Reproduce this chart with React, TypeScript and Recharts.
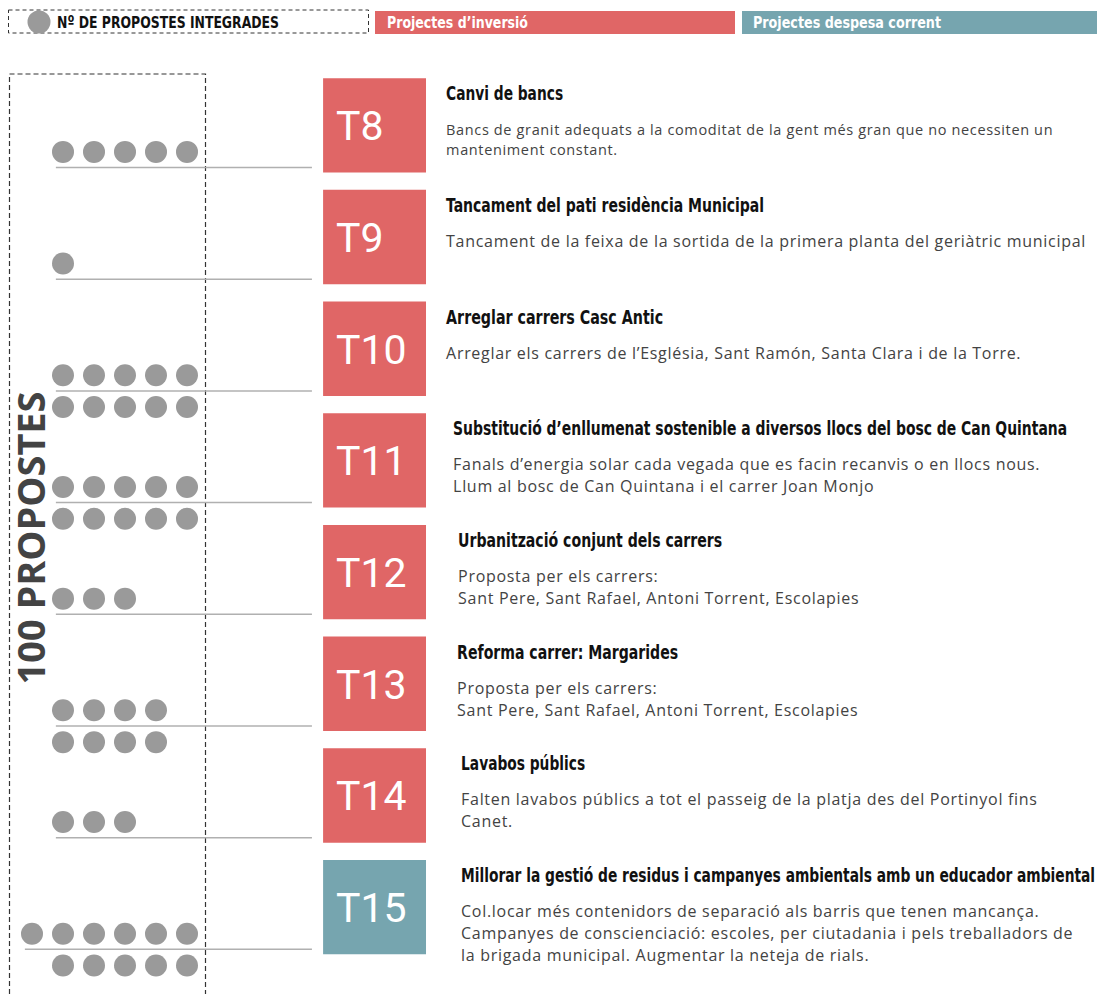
import { ScatterChart, Scatter, XAxis, YAxis, ReferenceLine, ReferenceArea } from "recharts";

// one entry per project row, top to bottom
const codes = ["T8", "T9", "T10", "T11", "T12", "T13", "T14", "T15"];
const titles = [
  "Canvi de bancs",
  "Tancament del pati residència Municipal",
  "Arreglar carrers Casc Antic",
  "Substitució d’enllumenat sostenible a diversos llocs del bosc de Can Quintana",
  "Urbanització conjunt dels carrers",
  "Reforma carrer: Margarides",
  "Lavabos públics",
  "Millorar la gestió de residus i campanyes ambientals amb un educador ambiental",
];
const descriptions = [
  ["Bancs de granit adequats a la comoditat de la gent més gran que no necessiten un", "manteniment constant."],
  ["Tancament de la feixa de la sortida de la primera planta del geriàtric municipal"],
  ["Arreglar els carrers de l’Església, Sant Ramón, Santa Clara i de la Torre."],
  ["Fanals d’energia solar cada vegada que es facin recanvis o en llocs nous.", "Llum al bosc de Can Quintana i el carrer Joan Monjo"],
  ["Proposta per els carrers:", "Sant Pere, Sant Rafael, Antoni Torrent, Escolapies"],
  ["Proposta per els carrers:", "Sant Pere, Sant Rafael, Antoni Torrent, Escolapies"],
  ["Falten lavabos públics a tot el passeig de la platja des del Portinyol fins", "Canet."],
  [
    "Col.locar més contenidors de separació als barris que tenen mancança.",
    "Campanyes de conscienciació: escoles, per ciutadania i pels treballadors de",
    "la brigada municipal. Augmentar la neteja de rials.",
  ],
];
const kinds = ["inversio", "inversio", "inversio", "inversio", "inversio", "inversio", "inversio", "despesa"];

// integrated proposals: dots above and below each row's line
const topDots = [5, 1, 5, 5, 3, 4, 3, 6];
const bottomDots = [0, 0, 5, 5, 0, 4, 0, 5];
const topFirstCol = [0, 0, 0, 0, 0, 0, 0, -1];

const legendLabels = ["Nº DE PROPOSTES INTEGRADES", "Projectes d’inversió", "Projectes despesa corrent"];
const totalLabel = "100 PROPOSTES";

// layout
const W = 1097;
const H = 994;
const X_DOMAIN: [number, number] = [-63 / 31, (W - 63) / 31];
const Y_DOMAIN: [number, number] = [-1.5, 7.4];
const BOX_COL = [8.39, 11.71];
const BOX_ROW = [-0.8, 0.045];
const DOT_ROW = [-0.14, 0.145];
const LINE_END = 8.03;
const textIndent = [0, 0, 0, 7, 12, 11, 15, 15];
const titleWidth = [117, 318, 217, 614, 264, 221, 124, 634];
const descSize = [14.5, 16, 16, 16, 16, 16, 16, 16];
const descSpacing = [0.64, 0.7, 0.7, 0.7, 0.7, 0.7, 0.7, 0.7];
const descLine = [20, 22, 22, 22, 22, 22, 22, 22];

const COLORS: Record<string, string> = { inversio: "#e06666", despesa: "#76a5af" };
const DOT = "#9a9a9a";
const TEXT = "#434343";
const CONDENSED = "'DejaVu Sans Condensed', 'Liberation Sans Narrow', sans-serif";

const dots = codes.flatMap((_, i) => [
  ...Array.from({ length: topDots[i] }, (_, k) => ({ col: topFirstCol[i] + k, y: i + DOT_ROW[0] })),
  ...Array.from({ length: bottomDots[i] }, (_, k) => ({ col: k, y: i + DOT_ROW[1] })),
]);

const anchors = codes.map((code, i) => ({ col: BOX_COL[0], y: i + BOX_ROW[0], i, code }));

// tall, condensed heading text (stand-in for Oswald)
function Heading({ x, y, width, size, fill, children }: any) {
  return (
    <text
      transform={`translate(${x},${y}) scale(1,1.3)`}
      fill={fill}
      fontSize={size}
      fontWeight="bold"
      fontFamily={CONDENSED}
      textLength={width}
      lengthAdjust="spacingAndGlyphs"
    >
      {children}
    </text>
  );
}

function RowText(props: any) {
  const { cx, cy, payload } = props;
  if (cx == null || cy == null) return null;
  const i = payload.i;
  const tx = cx + 123 + textIndent[i];
  return (
    <g>
      <text x={cx + 13} y={cy + 62} fill="#fff" fontSize={41} fontFamily="Roboto, 'Liberation Sans', sans-serif">
        {payload.code}
      </text>
      <Heading x={tx} y={cy + 22} width={titleWidth[i]} size={15} fill="#111">
        {titles[i]}
      </Heading>
      {descriptions[i].map((line, k) => (
        <text
          key={k}
          x={tx}
          y={cy + 57 + k * descLine[i]}
          fill={TEXT}
          fontSize={descSize[i]}
          letterSpacing={descSpacing[i]}
          fontFamily="'Open Sans', sans-serif"
        >
          {line}
        </text>
      ))}
    </g>
  );
}

function Decor() {
  return (
    <svg width={W} height={H} style={{ position: "absolute", left: 0, top: 0 }}>
      <rect x={8.5} y={10} width={360} height={23} fill="none" stroke="#333" strokeDasharray="4 3" />
      <circle cx={39} cy={22} r={11.5} fill={DOT} />
      <Heading x={57} y={28} width={222} size={12.5} fill="#111">
        {legendLabels[0]}
      </Heading>
      <rect x={375} y={11} width={360} height={23} fill={COLORS.inversio} />
      <Heading x={387} y={28} width={141} size={12.5} fill="#fff">
        {legendLabels[1]}
      </Heading>
      <rect x={742} y={11} width={360} height={23} fill={COLORS.despesa} />
      <Heading x={753} y={28} width={188} size={12.5} fill="#fff">
        {legendLabels[2]}
      </Heading>
      <rect x={9.5} y={74} width={196} height={940} fill="none" stroke="#333" strokeDasharray="5 3" strokeWidth={1.2} />
      <text
        transform="translate(45,538) rotate(-90)"
        textAnchor="middle"
        fontSize={38}
        fontWeight="bold"
        fontFamily="'Open Sans', sans-serif"
        fill={TEXT}
        textLength={293}
        lengthAdjust="spacingAndGlyphs"
      >
        {totalLabel}
      </text>
    </svg>
  );
}

export default function App() {
  return (
    <div style={{ position: "absolute", left: 0, top: 0, width: W, height: H, background: "#fff" }}>
      <Decor />
      <div style={{ position: "absolute", left: 0, top: 0 }}>
        <ScatterChart width={W} height={H} margin={{ top: 0, right: 0, bottom: 0, left: 0 }}>
          <XAxis type="number" dataKey="col" domain={X_DOMAIN} allowDataOverflow hide />
          <YAxis type="number" dataKey="y" domain={Y_DOMAIN} allowDataOverflow reversed hide />
          {codes.map((code, i) => (
            <ReferenceLine
              key={`l-${code}`}
              segment={[
                { x: Math.min(topFirstCol[i], 0) - 0.23, y: i },
                { x: LINE_END, y: i },
              ]}
              stroke="#b0b0b0"
              strokeWidth={1.5}
              ifOverflow="visible"
            />
          ))}
          {codes.map((code, i) => (
            <ReferenceArea
              key={`b-${code}`}
              x1={BOX_COL[0]}
              x2={BOX_COL[1]}
              y1={i + BOX_ROW[0]}
              y2={i + BOX_ROW[1]}
              fill={COLORS[kinds[i]]}
              fillOpacity={1}
              stroke="none"
              ifOverflow="visible"
            />
          ))}
          <Scatter
            data={dots}
            isAnimationActive={false}
            shape={(p: any) => <circle cx={p.cx} cy={p.cy} r={11} fill={DOT} />}
          />
          <Scatter data={anchors} isAnimationActive={false} shape={(p: any) => <RowText {...p} />} />
        </ScatterChart>
      </div>
    </div>
  );
}
